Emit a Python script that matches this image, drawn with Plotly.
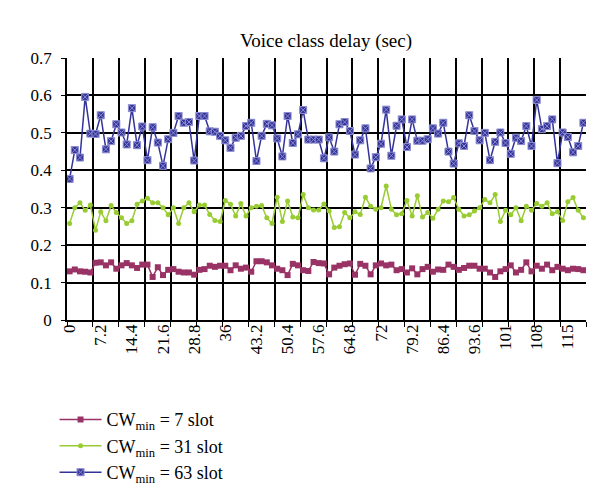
import plotly.graph_objects as go

# Category axis (sec)
categories = [round(1.2 * i, 1) for i in range(100)]

cw7 = [0.130, 0.135, 0.130, 0.129, 0.127, 0.153, 0.154, 0.146, 0.154, 0.137,
       0.146, 0.152, 0.146, 0.139, 0.148, 0.148, 0.115, 0.141, 0.120, 0.134,
       0.136, 0.129, 0.127, 0.127, 0.121, 0.134, 0.136, 0.145, 0.142, 0.145,
       0.145, 0.133, 0.146, 0.137, 0.140, 0.129, 0.157, 0.157, 0.154, 0.146,
       0.137, 0.133, 0.120, 0.150, 0.146, 0.133, 0.131, 0.155, 0.152, 0.151,
       0.122, 0.140, 0.145, 0.149, 0.151, 0.121, 0.150, 0.145, 0.122, 0.146,
       0.151, 0.146, 0.148, 0.133, 0.136, 0.127, 0.138, 0.122, 0.136, 0.142,
       0.129, 0.135, 0.134, 0.148, 0.142, 0.134, 0.139, 0.145, 0.145, 0.137,
       0.137, 0.127, 0.115, 0.130, 0.136, 0.146, 0.127, 0.134, 0.154, 0.130,
       0.145, 0.137, 0.148, 0.133, 0.142, 0.137, 0.133, 0.137, 0.136, 0.133]

cw31 = [0.258, 0.300, 0.313, 0.293, 0.307, 0.240, 0.289, 0.265, 0.306, 0.287,
        0.273, 0.258, 0.265, 0.309, 0.318, 0.325, 0.313, 0.313, 0.300, 0.281,
        0.300, 0.258, 0.300, 0.313, 0.289, 0.307, 0.307, 0.282, 0.266, 0.263,
        0.319, 0.309, 0.278, 0.311, 0.278, 0.300, 0.304, 0.306, 0.273, 0.258,
        0.328, 0.263, 0.318, 0.275, 0.273, 0.335, 0.300, 0.294, 0.294, 0.310,
        0.291, 0.247, 0.249, 0.287, 0.273, 0.289, 0.282, 0.328, 0.304, 0.296,
        0.300, 0.358, 0.296, 0.281, 0.284, 0.319, 0.278, 0.332, 0.275, 0.287,
        0.272, 0.296, 0.318, 0.316, 0.327, 0.296, 0.278, 0.281, 0.291, 0.300,
        0.322, 0.313, 0.335, 0.263, 0.293, 0.281, 0.300, 0.265, 0.304, 0.293,
        0.311, 0.304, 0.313, 0.284, 0.289, 0.266, 0.316, 0.327, 0.293, 0.273]

cw63 = [0.377, 0.454, 0.434, 0.596, 0.498, 0.497, 0.547, 0.456, 0.478, 0.523,
        0.501, 0.469, 0.566, 0.467, 0.517, 0.427, 0.515, 0.474, 0.412, 0.483,
        0.500, 0.545, 0.527, 0.529, 0.426, 0.545, 0.545, 0.504, 0.503, 0.492,
        0.480, 0.460, 0.487, 0.492, 0.518, 0.527, 0.425, 0.492, 0.524, 0.520,
        0.485, 0.437, 0.545, 0.473, 0.496, 0.561, 0.482, 0.482, 0.482, 0.432,
        0.488, 0.450, 0.523, 0.529, 0.505, 0.442, 0.480, 0.512, 0.405, 0.435,
        0.471, 0.562, 0.439, 0.519, 0.536, 0.462, 0.536, 0.479, 0.479, 0.483,
        0.512, 0.498, 0.527, 0.450, 0.418, 0.472, 0.465, 0.547, 0.505, 0.480,
        0.500, 0.427, 0.476, 0.501, 0.473, 0.444, 0.487, 0.478, 0.518, 0.465,
        0.588, 0.510, 0.518, 0.536, 0.419, 0.501, 0.489, 0.448, 0.465, 0.527]

label_vals = [0, 7.2, 14.4, 21.6, 28.8, 36, 43.2, 50.4, 57.6, 64.8, 72, 79.2,
              86.4, 93.6, 100.8, 108, 115.2]
label_text = ["0", "7.2", "14.4", "21.6", "28.8", "36", "43.2", "50.4", "57.6",
              "64.8", "72", "79.2", "86.4", "93.6", "101", "108", "115"]
grid_vals = [-0.6 + 6 * k for k in range(21)]

FONT = "Liberation Serif"

fig = go.Figure()
fig.add_trace(go.Scatter(
    x=categories, y=cw7, mode="lines+markers", name="CW<sub>min</sub> = 7 slot",
    line=dict(color="#993366", width=1.5),
    marker=dict(symbol="square", size=6, color="#993366")))
fig.add_trace(go.Scatter(
    x=categories, y=cw31, mode="lines+markers", name="CW<sub>min</sub> = 31 slot",
    line=dict(color="#99CC33", width=1.5),
    marker=dict(symbol="circle", size=5, color="#99CC33")))
fig.add_trace(go.Scatter(
    x=categories, y=cw63, mode="lines+markers", name="CW<sub>min</sub> = 63 slot",
    line=dict(color="#333399", width=1.5),
    marker=dict(symbol="square-x", size=7, color="#333399",
                line=dict(color="#8c8cd0", width=1))))
# invisible trace to activate the label axis
fig.add_trace(go.Scatter(x=[categories[0]], y=[cw7[0]], xaxis="x2",
                         mode="markers", marker=dict(opacity=0),
                         showlegend=False, hoverinfo="skip"))

fig.update_layout(
    width=600, height=495,
    margin=dict(l=59, r=22, t=50, b=180),
    paper_bgcolor="white", plot_bgcolor="white",
    font=dict(family=FONT, size=17, color="black"),
    title=dict(text="Voice class delay (sec)", x=0.53, xanchor="center",
               y=0.935, yanchor="middle", font=dict(family=FONT, size=19)),
    xaxis=dict(range=[-0.6, 119.4], tickmode="array", tickvals=grid_vals,
               showticklabels=False, showgrid=True, gridcolor="black",
               gridwidth=1.5, ticks="outside", ticklen=5, tickcolor="black",
               showline=True, linecolor="black", linewidth=1.5, zeroline=False),
    xaxis2=dict(range=[-0.6, 119.4], overlaying="x", side="bottom", anchor="y",
                tickmode="array", tickvals=label_vals, ticktext=label_text,
                tickangle=-90, showgrid=False, ticks="", showline=False,
                zeroline=False, tickfont=dict(family=FONT, size=17)),
    yaxis=dict(range=[0, 0.7], dtick=0.1, tick0=0, showgrid=True,
               gridcolor="black", gridwidth=1.5, ticks="outside", ticklen=4,
               tickcolor="black", showline=True, linecolor="black",
               linewidth=1.5, zeroline=False, ticklabelstandoff=6,
               tickfont=dict(family=FONT, size=17)),
    legend=dict(x=-0.024, y=-0.31, xanchor="left", yanchor="top",
                font=dict(family=FONT, size=18), bgcolor="rgba(0,0,0,0)",
                tracegroupgap=0, itemwidth=42),
    showlegend=True,
)

fig.write_html("out.html")
